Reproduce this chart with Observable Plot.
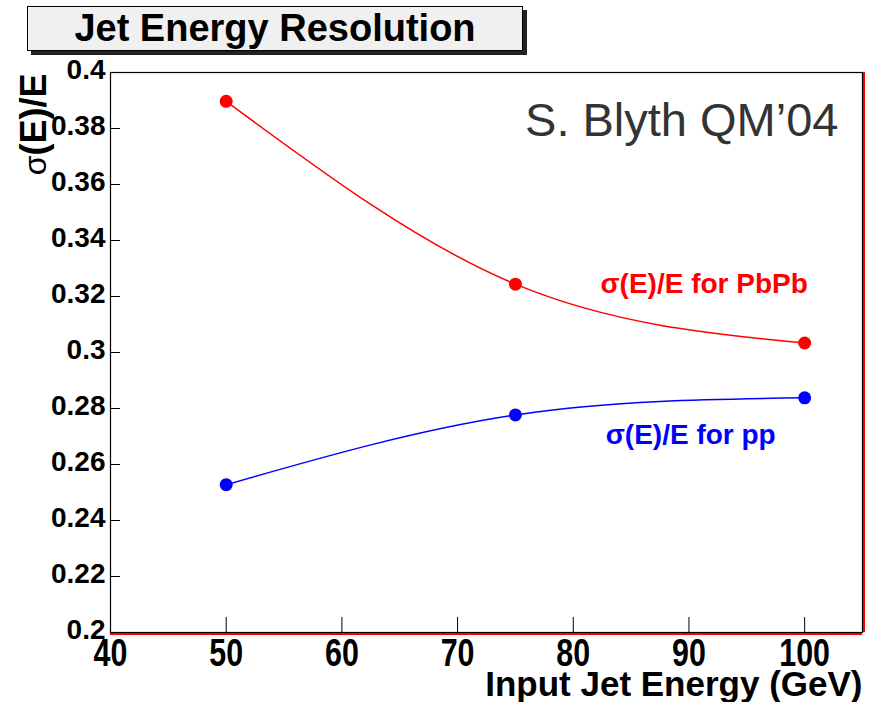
<!DOCTYPE html>
<html>
<head>
<meta charset="utf-8">
<script src="https://cdn.jsdelivr.net/npm/d3@7"></script>
<script src="https://cdn.jsdelivr.net/npm/@observablehq/plot@0.6"></script>
<style>
  html, body { margin: 0; padding: 0; background: #fff; }
  #wrap { position: relative; width: 875px; height: 702px; overflow: hidden; }
  #title {
    position: absolute; left: 27px; top: 6px; width: 496px; height: 45px;
    box-sizing: border-box; border: 1.5px solid #000; background: #f0f0f0;
    box-shadow: 4px 4px 0 #222;
    font-family: "Liberation Sans", Arial, Helvetica, sans-serif;
    font-weight: bold; font-size: 38px; line-height: 43px; text-align: center; color: #000;
  }
</style>
</head>
<body>
<div id="wrap">
  <div id="chart"></div>
  <div id="title">Jet Energy Resolution</div>
</div>
<script>
// ---- data ----
const energies = [50, 75, 100];
const resPbPb = [0.3897, 0.3244, 0.3034];
const resPp = [0.2528, 0.2777, 0.2838];

const xTicks = [40, 50, 60, 70, 80, 90, 100];
const xTickLabels = ["40", "50", "60", "70", "80", "90", "100"];
const yTicks = [0.2, 0.22, 0.24, 0.26, 0.28, 0.3, 0.32, 0.34, 0.36, 0.38, 0.4];
const yTickLabels = ["0.2", "0.22", "0.24", "0.26", "0.28", "0.3", "0.32", "0.34", "0.36", "0.38", "0.4"];
const xDomain = [40, 105];
const yDomain = [0.2, 0.4];

const seriesNames = ["σ(E)/E for PbPb", "σ(E)/E for pp"];
const seriesColors = ["#ff0000", "#0000ff"];
const labelX = [82.35, 82.8];
const labelY = [0.3214, 0.2675];

const pbpb = energies.map((e, i) => ({energy: e, res: resPbPb[i]}));
const pp = energies.map((e, i) => ({energy: e, res: resPp[i]}));

const font = "Liberation Sans, Arial, Helvetica, sans-serif";

const chart = Plot.plot({
  width: 875,
  height: 702,
  marginLeft: 110,
  marginRight: 13,
  marginTop: 72,
  marginBottom: 70,
  style: {fontFamily: font, background: "white", color: "black", overflow: "visible"},
  x: {domain: xDomain, label: null},
  y: {domain: yDomain, label: null},
  marks: [
    // inward ticks
    Plot.tickX(xTicks, {x: d => d, insetTop: 545, stroke: "black", strokeWidth: 1}),
    Plot.tickY(yTicks, {y: d => d, insetRight: 742, stroke: "black", strokeWidth: 1}),
    // tick labels
    Plot.axisX(xTicks, {tickSize: 0, tickPadding: 7, fontSize: 38, fontWeight: "bold",
      tickFormat: (d, i) => xTickLabels[i], label: null}),
    Plot.axisY(yTicks, {tickSize: 0, tickPadding: 5, fontSize: 28, fontWeight: "bold", dy: -2,
      tickFormat: (d, i) => yTickLabels[i], label: null}),
    // frame, with red bottom/right edges
    Plot.frame({stroke: "black", strokeWidth: 1.2}),
    Plot.ruleY([yDomain[0]], {stroke: "red", strokeWidth: 2, dy: 1.5}),
    Plot.ruleX([xDomain[1]], {stroke: "red", strokeWidth: 2, dx: 1.5}),
    // series
    Plot.line(pbpb, {x: "energy", y: "res", stroke: seriesColors[0], strokeWidth: 1.5, curve: "natural"}),
    Plot.line(pp, {x: "energy", y: "res", stroke: seriesColors[1], strokeWidth: 1.5, curve: "natural"}),
    Plot.dot(pbpb, {x: "energy", y: "res", fill: seriesColors[0], r: 6.5}),
    Plot.dot(pp, {x: "energy", y: "res", fill: seriesColors[1], r: 6.5}),
    // series labels
    Plot.text([0], {x: () => labelX[0], y: () => labelY[0], text: () => seriesNames[0],
      fill: seriesColors[0], textAnchor: "start", lineAnchor: "bottom", fontSize: 28, fontWeight: "bold"}),
    Plot.text([1], {x: () => labelX[1], y: () => labelY[1], text: () => seriesNames[1],
      fill: seriesColors[1], textAnchor: "start", lineAnchor: "bottom", fontSize: 28, fontWeight: "bold"}),
    // annotation
    Plot.text(["S. Blyth QM’04"], {text: d => d, frameAnchor: "top-right", textAnchor: "end",
      lineAnchor: "top", dx: -24, dy: 30, fontSize: 47, fill: "#333"}),
    // axis titles
    Plot.text(["Input Jet Energy (GeV)"], {text: d => d, frameAnchor: "bottom-right", textAnchor: "end",
      lineAnchor: "bottom", dy: 63, fontSize: 35, fontWeight: "bold"}),
    Plot.text(["σ(E)/E"], {text: d => d, frameAnchor: "top-left", textAnchor: "end",
      lineAnchor: "bottom", rotate: -90, dx: -65, dy: 1, fontSize: 36, fontWeight: "bold"})
  ]
});

document.getElementById("chart").appendChild(chart);

// condense x tick labels like the original ROOT font
d3.select(chart).selectAll('g[aria-label="x-axis tick label"] text').each(function () {
  const t = this.getAttribute("transform") || "";
  this.setAttribute("transform", t + " scale(0.8,1)");
});
// sigma drawn in normal weight (symbol font look)
d3.select(chart).selectAll("text").each(function () {
  const s = this.textContent;
  if (s.startsWith("σ")) {
    const isTitle = s === "σ(E)/E";
    this.textContent = "";
    const ns = "http://www.w3.org/2000/svg";
    const a = document.createElementNS(ns, "tspan");
    a.setAttribute("font-weight", isTitle ? "normal" : "bold");
    if (isTitle) a.setAttribute("font-size", "32");
    a.textContent = "σ";
    const b = document.createElementNS(ns, "tspan");
    b.textContent = s.slice(1);
    this.appendChild(a);
    this.appendChild(b);
  }
});
</script>
</body>
</html>
